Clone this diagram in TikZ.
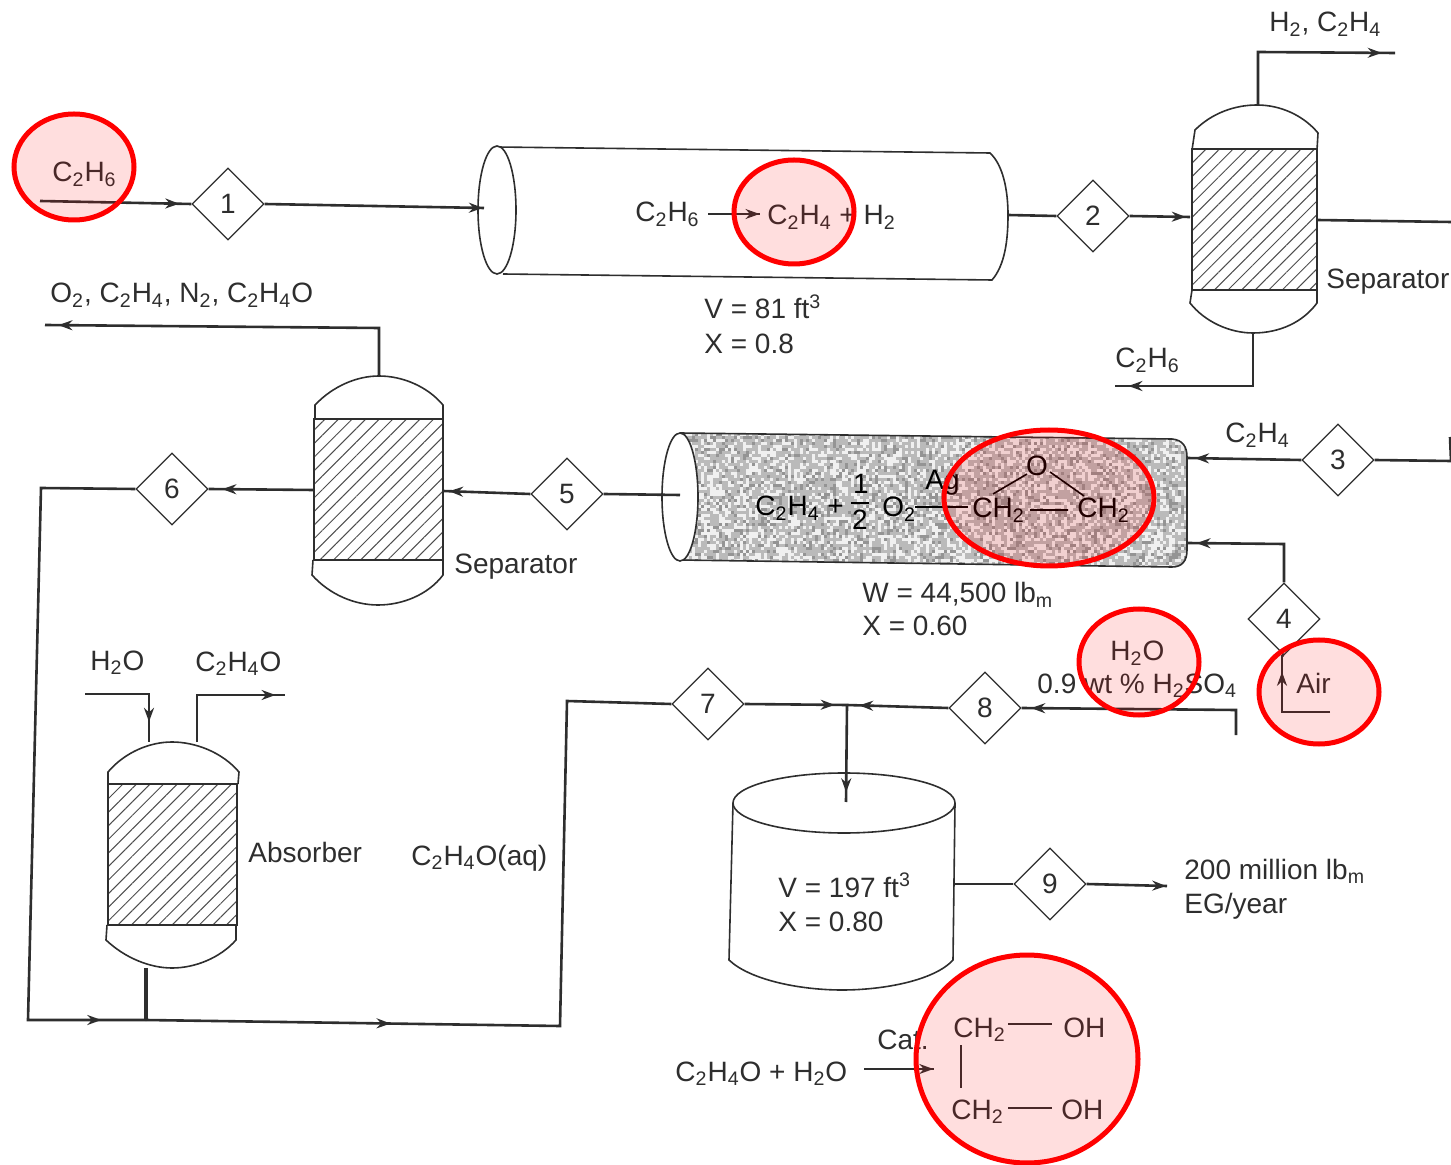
\documentclass[tikz,border=0pt]{standalone}
\usepackage{fontspec}
\setmainfont{Liberation Sans}
\usetikzlibrary{shapes.geometric,arrows.meta,decorations.markings,patterns.meta}
\definecolor{ink}{gray}{0.18}
\tikzset{
  lbl/.style={inner sep=0pt,anchor=base west,text=ink,font=\fontsize{14}{16}\selectfont},
  num/.style={shape=diamond,draw=ink,line width=.6pt,minimum width=36pt,minimum height=36pt,inner sep=0pt,fill=white,text=ink,font=\fontsize{14}{16}\selectfont},
  pipe/.style={draw=ink,line width=1.3pt},
  thin pipe/.style={draw=ink,line width=.8pt},
  shell/.style={draw=ink,line width=.8pt},
  bed/.style={draw=ink,line width=.9pt,inner sep=0pt,pattern={Lines[angle=45,distance=4.8pt,line width=.5pt]},pattern color=ink!85},
  flow/.style={postaction={decorate,decoration={markings,mark=at position #1 with {\arrow{Stealth[length=7pt,width=5pt]}}}}},
  mark ring/.style={draw=red,line width=2.5pt,fill=red,fill opacity=.13,draw opacity=1}
}
\begin{document}
\begin{tikzpicture}[x=.5pt,y=-.5pt]
\useasboundingbox (0,0) rectangle (1451,1165);
% diamonds
\node[num] (d1) at (228,204) {1};
\node[num] (d2) at (1093,216) {2};
\node[num] (d3) at (1338,460) {3};
\node[num] (d4) at (1284,619) {4};
\node[num] (d5) at (567,494) {5};
\node[num] (d6) at (172,489) {6};
\node[num] (d7) at (708,704) {7};
\node[num] (d8) at (985,708) {8};
\node[num] (d9) at (1050,884) {9};
% dehydrogenation reactor
\draw[shell,fill=white] (497,147) -- (990,153) .. controls (1003,165) and (1008,190) .. (1008,215) .. controls (1008,240) and (1005,265) .. (992,280) -- (503,274);
\draw[shell,fill=white] (497,210) ellipse [x radius=19,y radius=64];
% oxidation reactor, speckled packed bed
\begin{scope}
\clip (680,433) -- (1172,439) .. controls (1183,440) and (1187,447) .. (1187,457) -- (1187,550) .. controls (1187,561) and (1182,567) .. (1172,567) -- (680,560) -- cycle;
\fill[black!27] (670,425) rectangle (1195,575);
\pgfmathsetseed{4711}
\foreach \cx in {0,...,175}{
  \foreach \cy in {0,...,47}{
    \pgfmathrandominteger{\rn}{0}{99}
    \ifnum\rn<34
      \fill[black!6] ({680+3*\cx},{430+3*\cy}) rectangle +(3,3);
    \else\ifnum\rn>82
      \fill[black!42] ({680+3*\cx},{430+3*\cy}) rectangle +(3,3);
    \fi\fi
  }
}
\end{scope}
\draw[shell] (680,433) -- (1172,439) .. controls (1183,440) and (1187,447) .. (1187,457) -- (1187,550) .. controls (1187,561) and (1182,567) .. (1172,567) -- (680,560);
\draw[shell,fill=white] (680,497) ellipse [x radius=18,y radius=64];
% separator 1
\node[bed,minimum width=62.5pt,minimum height=70.5pt] (sep1) at (1254.5,219.5) {};
\draw[shell] (1192,150) -- (1195,130) .. controls (1212,113) and (1235,105) .. (1257,105) .. controls (1280,105) and (1303,115) .. (1318,133) -- (1317,150);
\draw[shell] (1192,290) -- (1190,303) .. controls (1205,322) and (1230,333) .. (1253,333) .. controls (1280,333) and (1303,322) .. (1317,303) -- (1317,290);
\coordinate (sep1top) at (1258,105);
\coordinate (sep1bot) at (1253,333);
% separator 2
\node[bed,minimum width=64.5pt,minimum height=70.5pt] (sep2) at (378.5,489.5) {};
\draw[shell] (315,419) -- (315,405) .. controls (333,386) and (357,376) .. (379,376) .. controls (402,376) and (427,386) .. (443,405) -- (443,419);
\draw[shell] (313,560) -- (312,575) .. controls (330,595) and (355,605) .. (378,605) .. controls (402,605) and (428,595) .. (443,575) -- (443,560);
\coordinate (sep2top) at (379,376);
% absorber
\node[bed,minimum width=64.5pt,minimum height=70.5pt] (abs) at (172.5,854.5) {};
\draw[shell] (108,784) -- (108,772) .. controls (125,752) and (150,742) .. (172,742) .. controls (195,742) and (222,752) .. (239,772) -- (238,784);
\draw[shell] (107,925) -- (106,940) .. controls (125,958) and (150,968) .. (172,968) .. controls (195,968) and (220,958) .. (236,940) -- (236,925);
\coordinate (abstop1) at (149,742);
\coordinate (abstop2) at (197,742);
\coordinate (absbot) at (146,968);
% tank
\draw[shell] (844,803) ellipse [x radius=111,y radius=30];
\draw[shell] (733,803) -- (729,960) .. controls (750,980) and (800,990) .. (842,990) .. controls (885,990) and (935,980) .. (953,960) -- (955,803);
% free ends and bends
\coordinate (feed) at (40,201);
\coordinate (c1in) at (484,208);
\coordinate (c1out) at (1008,215);
\coordinate (s1in) at (1190,217);
\coordinate (b1) at (1258,52);
\coordinate (o1) at (1395,53);
\coordinate (s1r) at (1317,220);
\coordinate (edge1) at (1451,222);
\coordinate (b2) at (1253,386);
\coordinate (o2) at (1115,386);
\coordinate (edge2) at (1451,461);
\coordinate (stub) at (1450,437);
\coordinate (r2a) at (1187,458);
\coordinate (b4) at (1284,544);
\coordinate (r2b) at (1187,543);
\coordinate (air1) at (1330,712);
\coordinate (air2) at (1282,712);
\coordinate (air3) at (1282,655);
\coordinate (r2l) at (680,495);
\coordinate (s2r) at (443,491);
\coordinate (s2l) at (314,490);
\coordinate (b3) at (379,328);
\coordinate (o3) at (45,325);
\coordinate (b6a) at (41,488);
\coordinate (b6b) at (28,1020);
\coordinate (tee) at (146,1020);
\coordinate (b7a) at (560,1026);
\coordinate (b7b) at (567,701);
\coordinate (h2oin) at (85,694);
\coordinate (h2ob) at (149,694);
\coordinate (eoB) at (197,695);
\coordinate (eoE) at (285,695);
\coordinate (acid1) at (1236,735);
\coordinate (acid2) at (1236,710);
\coordinate (mix) at (847,705);
\coordinate (tanktop) at (846,802);
\coordinate (tankr) at (955,884);
\coordinate (prod) at (1167,886);
% connectors
\draw[pipe,flow=.92] (feed) -- (d1.west);
\draw[pipe,flow=.995] (d1.east) -- (c1in);
\draw[pipe] (c1out) -- (d2.west);
\draw[pipe,flow=.93] (d2.east) -- (s1in);
\draw[pipe,flow=.93] (sep1top) -- (b1) -- (o1);
\draw[pipe] (s1r) -- (edge1);
\draw[pipe,flow=.93] (sep1bot) -- (b2) -- (o2);
\draw[pipe] (d3.east) -- (edge2);
\draw[pipe] (stub) -- (edge2);
\draw[pipe,flow=.93] (d3.west) -- (r2a);
\draw[pipe,flow=.93] (d4.north) -- (b4) -- (r2b);
\draw[pipe,flow=.84] (air1) -- (air2) -- (air3);
\draw[pipe] (air3) -- (d4.south);
\draw[pipe] (d5.east) -- (r2l);
\draw[pipe,flow=.93] (d5.west) -- (s2r);
\draw[pipe,flow=.87] (s2l) -- (d6.east);
\draw[pipe,flow=.965] (sep2top) -- (b3) -- (o3);
\draw[pipe,flow=.94] (d6.west) -- (b6a) -- (b6b) -- (tee);
\draw[pipe,flow=.29] (tee) -- (b7a) -- (b7b) -- (d7.west);
\draw[pipe,line width=2.2pt] (absbot) -- (tee);
\draw[pipe,flow=.82] (h2oin) -- (h2ob) -- (abstop1);
\draw[pipe,flow=.93] (abstop2) -- (eoB) -- (eoE);
\draw[pipe,flow=.96] (acid1) -- (acid2) -- (d8.east);
\draw[pipe,flow=.88] (d7.east) -- (mix);
\draw[pipe,flow=.88] (d8.west) -- (mix);
\draw[pipe,flow=.9] (mix) -- (tanktop);
\draw[pipe] (tankr) -- (d9.west);
\draw[pipe,flow=.99] (d9.east) -- (prod);
% reaction 1
\node[lbl] (r1a) at (635,222) {C\textsubscript{2}H\textsubscript{6}};
\coordinate (r1s) at (708,214);
\coordinate (r1e) at (760,214);
\draw[thin pipe,flow=.99] (r1s) -- (r1e);
\node[lbl] (r1b) at (767,225) {C\textsubscript{2}H\textsubscript{4} + H\textsubscript{2}};
% reaction 2
\begin{scope}[every node/.append style={text=black}]
\node[lbl,text=black] (r2t) at (755,516) {C\textsubscript{2}H\textsubscript{4} +};
\node[lbl,text=black,anchor=base] (r2n) at (861,494) {1};
\node[lbl,text=black,anchor=base] (r2m) at (860,530) {2};
\coordinate (fa) at (851,503);
\coordinate (fb) at (869,503);
\draw[thin pipe,draw=black] (fa) -- (fb);
\node[lbl,text=black] (r2o) at (882,517) {O\textsubscript{2}};
\node[lbl,text=black] (ag) at (925,490) {Ag};
\coordinate (rra) at (915,507);
\coordinate (rrb) at (968,507);
\draw[thin pipe,draw=black] (rra) -- (rrb);
\node[lbl,text=black] (ch1) at (972,518) {CH\textsubscript{2}};
\node[lbl,text=black] (ch2) at (1077,518) {CH\textsubscript{2}};
\node[lbl,text=black,anchor=base] (eo) at (1037,476) {O};
\coordinate (e1) at (993,494); \coordinate (e2) at (1027,474);
\coordinate (e3) at (1050,472); \coordinate (e4) at (1084,496);
\coordinate (e5) at (1030,510); \coordinate (e6) at (1068,510);
\draw[thin pipe,draw=black] (e1) -- (e2) (e3) -- (e4) (e5) -- (e6);
\end{scope}
% reaction 3
\node[lbl] (r3a) at (675,1081) {C\textsubscript{2}H\textsubscript{4}O + H\textsubscript{2}O};
\node[lbl] (cat) at (877,1049) {Cat.};
\coordinate (r3s) at (864,1069);
\coordinate (r3e) at (934,1069);
\draw[thin pipe,flow=.99] (r3s) -- (r3e);
\node[lbl] (g1) at (953,1037) {CH\textsubscript{2}};
\node[lbl] (g2) at (1063,1037) {OH};
\node[lbl] (g3) at (951,1119) {CH\textsubscript{2}};
\node[lbl] (g4) at (1061,1119) {OH};
\coordinate (g5) at (1008,1024); \coordinate (g6) at (1052,1024);
\coordinate (g7) at (1008,1108); \coordinate (g8) at (1052,1108);
\coordinate (g9) at (961,1045); \coordinate (g10) at (961,1088);
\draw[thin pipe] (g5) -- (g6) (g7) -- (g8) (g9) -- (g10);
% labels
\node[lbl] (t1) at (52,182) {C\textsubscript{2}H\textsubscript{6}};
\node[lbl] (t2) at (704,319) {V = 81 ft\textsuperscript{3}};
\node[lbl] (t3) at (704,354) {X = 0.8};
\node[lbl] (t4) at (1269,32) {H\textsubscript{2}, C\textsubscript{2}H\textsubscript{4}};
\node[lbl] (t5) at (50,303) {O\textsubscript{2}, C\textsubscript{2}H\textsubscript{4}, N\textsubscript{2}, C\textsubscript{2}H\textsubscript{4}O};
\node[lbl] (t6) at (1115,368) {C\textsubscript{2}H\textsubscript{6}};
\node[lbl] (t7) at (1326,289) {Separator};
\node[lbl] (t8) at (454,574) {Separator};
\node[lbl] (t9) at (1225,443) {C\textsubscript{2}H\textsubscript{4}};
\node[lbl] (t10) at (862,603) {W = 44,500 lb\textsubscript{m}};
\node[lbl] (t11) at (862,636) {X = 0.60};
\node[lbl] (t12) at (1110,661) {H\textsubscript{2}O};
\node[lbl] (t13) at (1037,693) {0.9 wt \% H\textsubscript{2}SO\textsubscript{4}};
\node[lbl] (t14) at (1296,693) {Air};
\node[lbl] (t15) at (90,670) {H\textsubscript{2}O};
\node[lbl] (t16) at (195,671) {C\textsubscript{2}H\textsubscript{4}O};
\node[lbl] (t17) at (248,862) {Absorber};
\node[lbl] (t18) at (411,865) {C\textsubscript{2}H\textsubscript{4}O(aq)};
\node[lbl] (t19) at (778,897) {V = 197 ft\textsuperscript{3}};
\node[lbl] (t20) at (778,931) {X = 0.80};
\node[lbl] (t21) at (1184,879) {200 million lb\textsubscript{m}};
\node[lbl] (t22) at (1184,913) {EG/year};
% red highlights
\path[mark ring] (74,167) ellipse [x radius=60,y radius=53];
\path[mark ring] (794,212) ellipse [x radius=60,y radius=52];
\path[mark ring] (1049,498) ellipse [x radius=105,y radius=68];
\path[mark ring] (1139,662) ellipse [x radius=60,y radius=53];
\path[mark ring] (1319,692) ellipse [x radius=60,y radius=52];
\path[mark ring] (1027,1059) ellipse [x radius=111,y radius=104];
\end{tikzpicture}
\end{document}
